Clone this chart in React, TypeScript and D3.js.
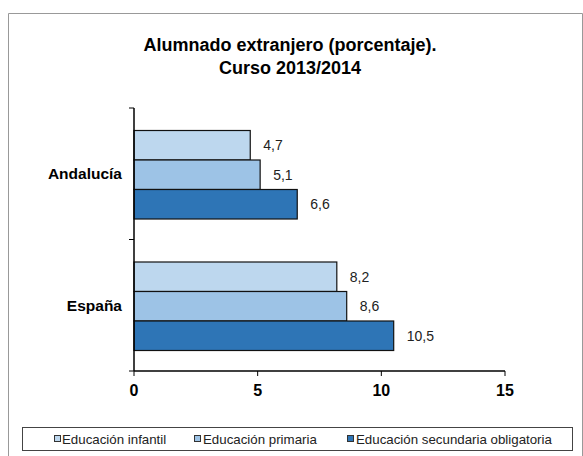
import React from "react";
import * as d3 from "d3";

const categories = ["Andalucía", "España"];
const seriesNames = ["Educación infantil", "Educación primaria", "Educación secundaria obligatoria"];
const seriesColors = ["#BDD7EE", "#9DC3E6", "#2E75B6"];
const infantil = [4.7, 8.2];
const primaria = [5.1, 8.6];
const secundaria = [6.6, 10.5];
const xTicks = [0, 5, 10, 15];
const titleLines = ["Alumnado extranjero (porcentaje).", "Curso 2013/2014"];

const W = 583;
const H = 456;
const FONT = "'Liberation Sans', Arial, sans-serif";

export default function App() {
  const series = [infantil, primaria, secundaria];
  const left = 134, right = 505, top = 108, bottom = 371;
  const x = d3.scaleLinear().domain([0, 15]).range([left, right]);
  const y = d3.scaleBand<string>().domain(categories).range([top, bottom]).paddingInner(0).paddingOuter(0);
  const groupH = 88.5;
  const inner = d3.scaleBand<number>().domain([0, 1, 2]).range([0, groupH]).padding(0);
  const fmt = (v: number) => v.toFixed(1).replace(".", ",");

  const legendItems = [
    { sx: 54, tx: 62 },
    { sx: 194, tx: 203 },
    { sx: 347, tx: 356 },
  ];

  return (
    <svg width={W} height={H} style={{ position: "absolute", left: 0, top: 0 }} fontFamily={FONT}>
      <rect x={0} y={0} width={W} height={H} fill="#fff" />
      <path d={`M8.5,${H} V13.5 H582.5 V${H}`} fill="none" stroke="#999" strokeWidth={1} />
      {titleLines.map((t, i) => (
        <text key={i} x={290} y={51 + i * 22.5} textAnchor="middle" fontSize={18} fontWeight="bold" fill="#000">
          {t}
        </text>
      ))}
      {categories.map((c, ci) => {
        const bandY = y(c)!;
        const gy = bandY + (y.bandwidth() - groupH) / 2 + 1;
        return (
          <g key={c}>
            {series.map((s, si) => {
              const by = gy + inner(si)!;
              const bw = x(s[ci]) - x(0);
              return (
                <g key={si}>
                  <rect x={x(0)} y={by} width={bw} height={inner.bandwidth()} fill={seriesColors[si]} stroke="#111" strokeWidth={1.2} />
                  <text x={x(s[ci]) + 13} y={by + inner.bandwidth() / 2} dominantBaseline="central" fontSize={14} fill="#222">
                    {fmt(s[ci])}
                  </text>
                </g>
              );
            })}
            <text x={122} y={bandY + y.bandwidth() / 2} textAnchor="end" dominantBaseline="central" fontSize={15.5} fontWeight="bold" fill="#000">
              {c}
            </text>
          </g>
        );
      })}
      {/* y axis */}
      <line x1={left} x2={left} y1={top} y2={bottom} stroke="#000" strokeWidth={1.5} />
      {[top, y(categories[1])!, bottom].map((ty, i) => (
        <line key={i} x1={left - 5} x2={left} y1={ty} y2={ty} stroke="#000" strokeWidth={1} />
      ))}
      {/* x axis */}
      <line x1={left} x2={right} y1={bottom} y2={bottom} stroke="#000" strokeWidth={1.5} />
      {xTicks.map((t) => (
        <g key={t}>
          <line x1={x(t)} x2={x(t)} y1={bottom} y2={bottom + 5} stroke="#000" strokeWidth={1} />
          <text x={x(t)} y={bottom + 19} textAnchor="middle" dominantBaseline="central" fontSize={16} fontWeight="bold" fill="#000">
            {t}
          </text>
        </g>
      ))}
      {/* legend */}
      <rect x={22.5} y={427.5} width={550} height={23} fill="#fff" stroke="#444" strokeWidth={1} />
      {seriesNames.map((n, i) => (
        <g key={n}>
          <rect x={legendItems[i].sx + 0.5} y={435.5} width={6} height={6} fill={seriesColors[i]} stroke="#333" strokeWidth={1} />
          <text x={legendItems[i].tx} y={439} dominantBaseline="central" fontSize={13.3} fill="#222">
            {n}
          </text>
        </g>
      ))}
    </svg>
  );
}
